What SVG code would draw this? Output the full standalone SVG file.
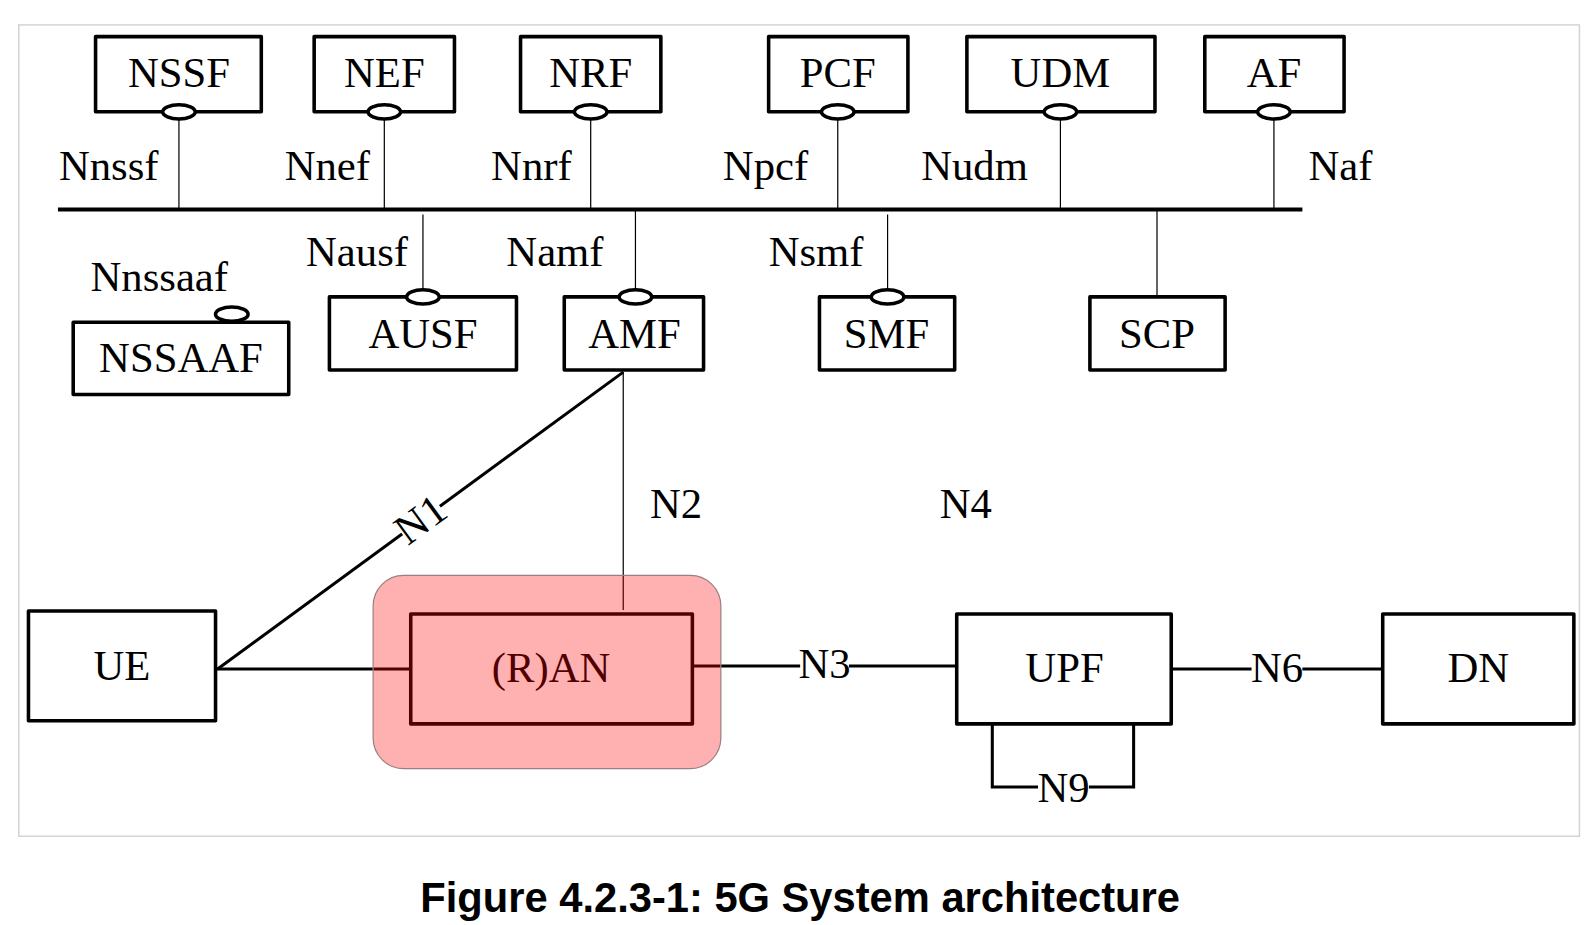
<svg xmlns="http://www.w3.org/2000/svg" width="1594" height="925" viewBox="0 0 1594 925">
<style>
.box{fill:#fff;stroke:#000;stroke-width:3.5;stroke-linejoin:round}
.ov{fill:#fff;stroke:#000;stroke-width:3.5}
.thin{stroke:#000;stroke-width:1.2;fill:none}
.thick{stroke:#000;stroke-width:3;fill:none}
.t{font-family:"Liberation Serif","Times New Roman",serif;font-size:42px;fill:#000}
.c{text-anchor:middle}
.bg{fill:#fff}
</style>
<rect x="0" y="0" width="1594" height="925" fill="#fff"/>
<g transform="scale(1.0167)">
<rect x="18.5" y="24.5" width="1535" height="798" fill="none" stroke="#d4d4d4" stroke-width="1.5"/>

<g id="connectors">
  <line x1="57" y1="206" x2="1281" y2="206" stroke="#000" stroke-width="4"/>
  <line class="thin" x1="176" y1="117" x2="176" y2="206"/>
  <line class="thin" x1="378" y1="117" x2="378" y2="206"/>
  <line class="thin" x1="581" y1="117" x2="581" y2="206"/>
  <line class="thin" x1="824" y1="117" x2="824" y2="206"/>
  <line class="thin" x1="1043" y1="117" x2="1043" y2="206"/>
  <line class="thin" x1="1253" y1="117" x2="1253" y2="206"/>
  <line class="thin" x1="416" y1="211" x2="416" y2="285"/>
  <line class="thin" x1="625" y1="206" x2="625" y2="285"/>
  <line class="thin" x1="873" y1="211" x2="873" y2="285"/>
  <line class="thin" x1="1138" y1="206" x2="1138" y2="292"/>
  <line class="thin" x1="613" y1="366" x2="613" y2="600"/>
  <line class="thick" x1="214" y1="658" x2="613" y2="366"/>
  <line class="thick" x1="212" y1="658" x2="404" y2="658"/>
  <line class="thick" x1="681" y1="655" x2="941" y2="655"/>
  <line class="thick" x1="1152" y1="658" x2="1360" y2="658"/>
  <polyline class="thick" points="976,712 976,774 1115,774 1115,712"/>
  <g transform="rotate(-36.2 413 510)">
    <rect class="bg" x="390" y="495" width="46" height="30"/>
    <text class="t c" x="413" y="525">N1</text>
  </g>
  <rect class="bg" x="787" y="640" width="48" height="28"/>
  <text class="t c" x="811" y="667">N3</text>
  <rect class="bg" x="1231" y="643" width="50" height="28"/>
  <text class="t c" x="1256" y="671">N6</text>
  <rect class="bg" x="1021" y="759" width="50" height="28"/>
  <text class="t c" x="1046" y="789">N9</text>
  <text class="t c" x="665" y="509">N2</text>
  <text class="t c" x="950" y="509">N4</text>
</g>

<g id="NSSF"><rect class="box" x="94" y="36" width="163" height="74"/><text class="t c" x="176" y="86">NSSF</text><ellipse class="ov" cx="176" cy="110" rx="16" ry="7"/><text class="t" x="58" y="177">Nnssf</text></g>
<g id="NEF"><rect class="box" x="309" y="36" width="138" height="74"/><text class="t c" x="378" y="86">NEF</text><ellipse class="ov" cx="378" cy="110" rx="16" ry="7"/><text class="t" x="280" y="177">Nnef</text></g>
<g id="NRF"><rect class="box" x="512" y="36" width="138" height="74"/><text class="t c" x="581" y="86">NRF</text><ellipse class="ov" cx="581" cy="110" rx="16" ry="7"/><text class="t" x="483" y="177">Nnrf</text></g>
<g id="PCF"><rect class="box" x="756" y="36" width="137" height="74"/><text class="t c" x="824" y="86">PCF</text><ellipse class="ov" cx="824" cy="110" rx="16" ry="7"/><text class="t" x="711" y="177">Npcf</text></g>
<g id="UDM"><rect class="box" x="951" y="36" width="185" height="74"/><text class="t c" x="1043" y="86">UDM</text><ellipse class="ov" cx="1043" cy="110" rx="16" ry="7"/><text class="t" x="906" y="177">Nudm</text></g>
<g id="AF"><rect class="box" x="1185" y="36" width="137" height="74"/><text class="t c" x="1253" y="86">AF</text><ellipse class="ov" cx="1253" cy="110" rx="16" ry="7"/><text class="t" x="1287" y="177">Naf</text></g>

<g id="NSSAAF"><rect class="box" x="72" y="317" width="212" height="71"/><text class="t c" x="178" y="366">NSSAAF</text><ellipse class="ov" cx="228" cy="309" rx="16" ry="7"/><text class="t" x="89" y="286">Nnssaaf</text></g>
<g id="AUSF"><rect class="box" x="324" y="292" width="184" height="72"/><text class="t c" x="416" y="342">AUSF</text><ellipse class="ov" cx="416" cy="292" rx="16" ry="7"/><text class="t" x="301" y="262">Nausf</text></g>
<g id="AMF"><rect class="box" x="555" y="292" width="137" height="72"/><text class="t c" x="624" y="342">AMF</text><ellipse class="ov" cx="625" cy="292" rx="16" ry="7"/><text class="t" x="498" y="262">Namf</text></g>
<g id="SMF"><rect class="box" x="806" y="292" width="133" height="72"/><text class="t c" x="872" y="342">SMF</text><ellipse class="ov" cx="873" cy="292" rx="16" ry="7"/><text class="t" x="756" y="262">Nsmf</text></g>
<g id="SCP"><rect class="box" x="1072" y="292" width="133" height="72"/><text class="t c" x="1138" y="342">SCP</text></g>

<g id="UE"><rect class="box" x="28" y="601" width="184" height="108"/><text class="t c" x="120" y="669">UE</text></g>
<g id="RAN"><rect class="box" x="404" y="604" width="277" height="108"/><text class="t c" x="542" y="671">(R)AN</text></g>
<g id="UPF"><rect class="box" x="941" y="604" width="211" height="108"/><text class="t c" x="1047" y="671">UPF</text></g>
<g id="DN"><rect class="box" x="1360" y="604" width="188" height="108"/><text class="t c" x="1454" y="671">DN</text></g>

<g id="highlight"><rect x="367" y="566" width="342" height="190" rx="30" ry="30" fill="#ff0000" fill-opacity="0.31" stroke="#9a8080" stroke-width="1.2"/></g>

<text x="787" y="897" text-anchor="middle" font-family="'Liberation Sans',Arial,sans-serif" font-weight="bold" font-size="41" fill="#000">Figure 4.2.3-1: 5G System architecture</text>
</g>
</svg>
